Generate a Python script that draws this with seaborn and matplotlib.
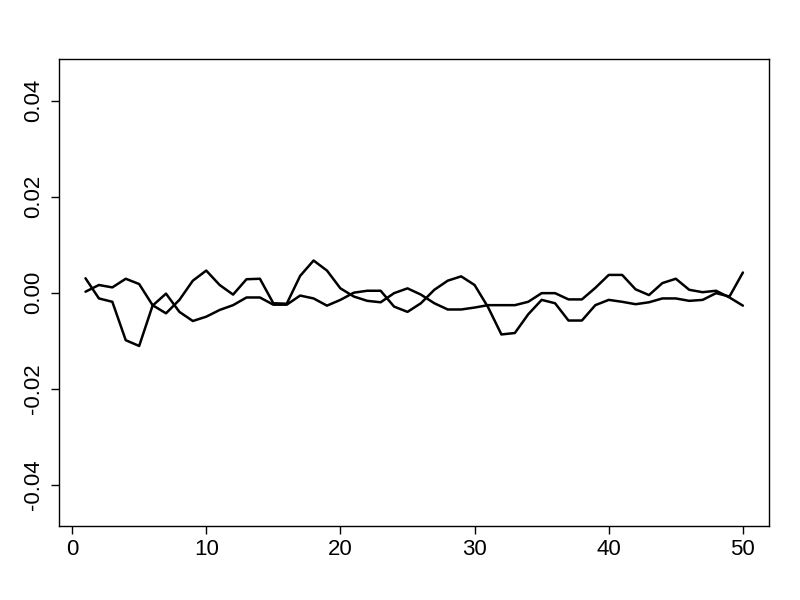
import numpy as np
import pandas as pd
import matplotlib
matplotlib.use('Agg')
import matplotlib.pyplot as plt
import seaborn as sns

# index 1..50
steps = list(range(1, 51))

series_a = [0.0030, -0.0012, -0.0019, -0.0099, -0.0111, -0.0027, -0.0002, -0.0040, -0.0059, -0.0050,
            -0.0036, -0.0026, -0.0010, -0.0010, -0.0025, -0.0025, -0.0006, -0.0012, -0.0027, -0.0015,
            0.0000, 0.0004, 0.0004, -0.0029, -0.0040, -0.0022, 0.0006, 0.0025, 0.0034, 0.0016,
            -0.0030, -0.0087, -0.0084, -0.0045, -0.0015, -0.0022, -0.0058, -0.0058, -0.0026, -0.0015,
            -0.0019, -0.0024, -0.0020, -0.0012, -0.0012, -0.0017, -0.0015, -0.0001, -0.0008, 0.0042]

series_b = [0.0002, 0.0016, 0.0011, 0.0029, 0.0018, -0.0026, -0.0043, -0.0015, 0.0025, 0.0046,
            0.0016, -0.0004, 0.0028, 0.0029, -0.0022, -0.0023, 0.0035, 0.0067, 0.0046, 0.0009,
            -0.0008, -0.0017, -0.0020, -0.0001, 0.0009, -0.0004, -0.0022, -0.0035, -0.0035, -0.0031,
            -0.0026, -0.0026, -0.0026, -0.0019, -0.0001, -0.0001, -0.0014, -0.0014, 0.0010, 0.0037,
            0.0037, 0.0007, -0.0005, 0.0020, 0.0029, 0.0006, 0.0001, 0.0004, -0.0010, -0.0027]

x_ticks = [0, 10, 20, 30, 40, 50]
y_ticks = [-0.04, -0.02, 0.00, 0.02, 0.04]
y_labels = ['-0.04', '-0.02', '0.00', '0.02', '0.04']

df = pd.DataFrame({
    'x': steps * 2,
    'value': series_a + series_b,
    'series': ['a'] * len(steps) + ['b'] * len(steps),
})

sns.set_style('ticks')
plt.rcParams['font.family'] = ['Liberation Sans', 'DejaVu Sans']

fig = plt.figure(figsize=(8, 6), dpi=100)
ax = fig.add_axes([0.074, 0.1233, 0.8875, 0.7778])

sns.lineplot(data=df, x='x', y='value', hue='series', palette=['black', 'black'],
             legend=False, linewidth=1.8, ax=ax)

ax.set_xlim(-0.96, 51.96)
ax.set_ylim(-0.0486, 0.0486)
ax.set_xticks(x_ticks)
ax.set_xticklabels([str(t) for t in x_ticks])
ax.set_yticks(y_ticks)
ax.set_yticklabels(y_labels, rotation=90, va='center')
ax.set_xlabel('')
ax.set_ylabel('')

ax.tick_params(axis='both', direction='out', length=6, width=1, labelsize=16,
               color='black', labelcolor='black')
ax.tick_params(axis='x', pad=3)
ax.tick_params(axis='y', pad=5)
for sp in ax.spines.values():
    sp.set_visible(True)
    sp.set_color('black')
    sp.set_linewidth(1)

fig.savefig('out.png', dpi=100)
plt.close()
